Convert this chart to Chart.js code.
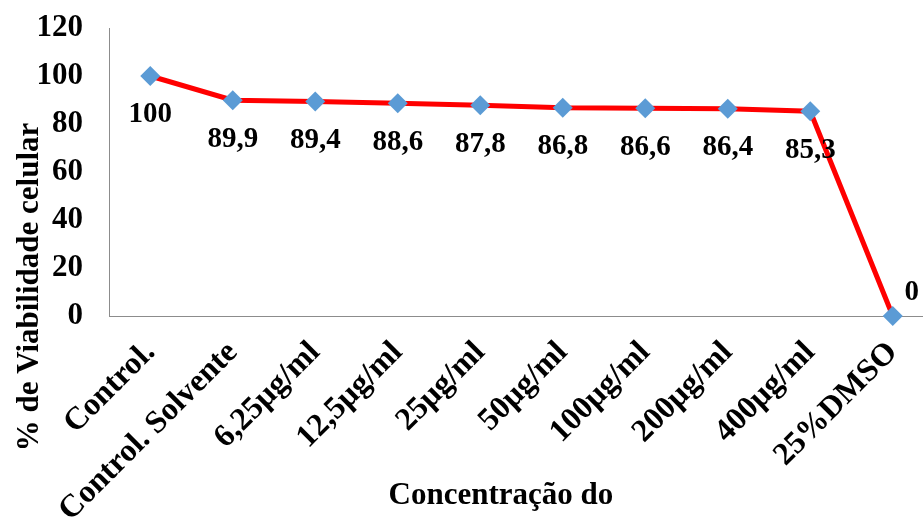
<!DOCTYPE html>
<html>
<head>
<meta charset="utf-8">
<script src="https://cdn.jsdelivr.net/npm/chart.js@4/dist/chart.umd.min.js"></script>
<style>
  html, body { margin: 0; padding: 0; background: #fff; overflow: hidden; }
  canvas { display: block; }
</style>
</head>
<body>
<!-- the plot box runs slightly past the right edge of the window -->
<canvas id="c" width="934" height="518"></canvas>
<script>
// Cell viability by treatment
const categories = ['Control.', 'Control. Solvente', '6,25µg/ml', '12,5µg/ml', '25µg/ml',
                    '50µg/ml', '100µg/ml', '200µg/ml', '400µg/ml', '25%DMSO'];
const viability = [100, 89.9, 89.4, 88.6, 87.8, 86.8, 86.6, 86.4, 85.3, 0];
const yTicks = [0, 20, 40, 60, 80, 100, 120];
const xTitle = 'Concentração do';
const yTitle = '% de Viabilidade celular';

const FONT = '"Liberation Serif", "Times New Roman", serif';

const fmt = v => String(v).replace('.', ',');

// Value labels under each point (last one sits up and to the right)
const valueLabels = {
  id: 'valueLabels',
  afterDatasetsDraw(chart) {
    const ctx = chart.ctx;
    const meta = chart.getDatasetMeta(0);
    ctx.save();
    ctx.font = 'bold 29px ' + FONT;
    ctx.fillStyle = '#000';
    ctx.textBaseline = 'middle';
    ctx.textAlign = 'center';
    meta.data.forEach((pt, i) => {
      const v = viability[i];
      if (i === meta.data.length - 1) {
        ctx.fillText(fmt(v), pt.x + 19, pt.y - 23);
      } else {
        ctx.fillText(fmt(v), pt.x, pt.y + 39);
      }
    });
    ctx.restore();
  }
};

// Axis titles
const axisTitles = {
  id: 'axisTitles',
  afterDraw(chart) {
    const ctx = chart.ctx;
    const a = chart.chartArea;
    ctx.save();
    ctx.font = 'bold 31px ' + FONT;
    ctx.fillStyle = '#000';
    ctx.textAlign = 'center';
    ctx.textBaseline = 'middle';
    ctx.fillText(xTitle, a.left + a.width * 0.475, 496);
    ctx.translate(30, 287);
    ctx.rotate(-Math.PI / 2);
    ctx.fillText(yTitle, 0, 0);
    ctx.restore();
  }
};

// Keep the plot box fixed: no extra padding from tick label overhang
function noPadding(scale) {
  scale.paddingTop = 0;
  scale.paddingBottom = 0;
  scale.paddingLeft = 0;
  scale.paddingRight = 0;
}

new Chart(document.getElementById('c'), {
  type: 'line',
  data: {
    labels: categories,
    datasets: [{
      data: viability,
      clip: false,
      borderColor: '#FF0000',
      borderWidth: 5,
      tension: 0,
      pointStyle: 'rectRot',
      pointRadius: 10,
      pointHoverRadius: 10,
      pointBackgroundColor: '#5B9BD5',
      pointBorderColor: '#5B9BD5',
      pointBorderWidth: 0
    }]
  },
  options: {
    responsive: false,
    animation: false,
    events: [],
    layout: { autoPadding: false, padding: { top: 28, right: 0, left: 0, bottom: 0 } },
    plugins: { legend: { display: false }, tooltip: { enabled: false } },
    scales: {
      x: {
        type: 'category',
        offset: true,
        grid: { display: false, drawTicks: false },
        border: { display: true, color: '#8c8c8c', width: 1 },
        ticks: {
          color: '#000',
          font: { family: FONT, size: 32, weight: 'bold' },
          maxRotation: 45,
          minRotation: 45,
          padding: 18,
          autoSkip: false
        },
        afterFit(scale) { scale.height = 202; noPadding(scale); }
      },
      y: {
        min: 0,
        max: 120,
        afterBuildTicks(scale) { scale.ticks = yTicks.map(v => ({ value: v })); },
        grid: { display: false, drawTicks: false },
        border: { display: true, color: '#8c8c8c', width: 1 },
        ticks: {
          color: '#000',
          font: { family: FONT, size: 31, weight: 'bold' },
          padding: 26
        },
        afterFit(scale) { scale.width = 109; noPadding(scale); }
      }
    }
  },
  plugins: [valueLabels, axisTitles]
});
</script>
</body>
</html>
